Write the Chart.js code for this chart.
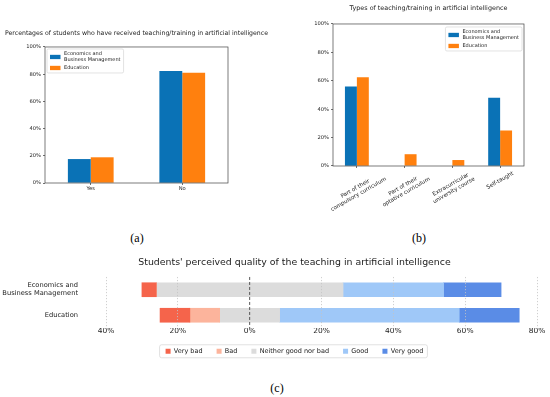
<!DOCTYPE html>
<html>
<head>
<meta charset="utf-8">
<script src="https://cdn.jsdelivr.net/npm/chart.js@4.4.1/dist/chart.umd.min.js"></script>
<style>
    html, body { margin: 0; padding: 0; background: #fff; }
    body { width: 550px; height: 397px; position: relative; overflow: hidden; }
    canvas { position: absolute; }
    .cap { position: absolute; font-family: "Liberation Serif", serif; font-size: 12px; color: #000; transform: translate(-50%, -50%); }
</style>
</head>
<body>
<canvas id="chartA" width="275" height="180" style="left:0;top:20px"></canvas>
<canvas id="chartB" width="275" height="215" style="left:275px;top:0"></canvas>
<canvas id="chartC" width="590" height="120" style="left:0;top:250px"></canvas>
<div class="cap" style="left:137px;top:238px">(a)</div>
<div class="cap" style="left:419px;top:238px">(b)</div>
<div class="cap" style="left:277px;top:388px">(c)</div>
<script>
// ---- data ----
const groupLabels = ['Economics and\nBusiness Management', 'Education'];

const receivedCats = ['Yes', 'No'];
const receivedEcon = [17.6, 82.4];
const receivedEdu = [18.9, 81.1];

const typeCats = [
    ['Part of their', 'compulsory curriculum'],
    ['Part of their', 'optative curriculum'],
    ['Extracurricular', 'university course'],
    ['Self-taught']
];
const typeEcon = [56, 0, 0, 48];
const typeEdu = [62.5, 8.3, 4.2, 25];

const qualityCats = [['Economics and', 'Business Management'], 'Education'];
const qualityLevels = ['Very bad', 'Bad', 'Neither good nor bad', 'Good', 'Very good'];
const qualityEcon = [4, 0, 52, 28, 16];
const qualityEdu = [8.3, 8.3, 16.7, 50, 16.7];

// ---- styles ----
const BLUE = '#0a72b6';
const ORANGE = '#ff800e';
const qualityColors = ['#f5644b', '#fcb49c', '#dcdcdc', '#9fc8f8', '#5a8ce6'];
const INK = '#222';

Chart.defaults.font.family = '"DejaVu Sans", sans-serif';
Chart.defaults.color = INK;

// frame around the plot area (matplotlib spines)
const frame = {
    id: 'frame',
    afterDatasetsDraw(chart) {
        const { ctx, chartArea: c } = chart;
        ctx.save();
        ctx.strokeStyle = '#444';
        ctx.lineWidth = 0.7;
        ctx.strokeRect(c.left, c.top, c.right - c.left, c.bottom - c.top);
        ctx.restore();
    }
};

// legend drawn inside the plot area, with a box
const boxLegend = {
    id: 'boxLegend',
    afterDraw(chart, args, o) {
        const { ctx, chartArea: a } = chart;
        const size = 5, lh = 6, sw = 10.5, sh = 4.3, padX = 3, padY = 2, gap = 3.5, itemGap = 2;
        ctx.save();
        ctx.font = size + 'px "DejaVu Sans"';
        const items = chart.data.datasets.map(d => ({ lines: d.label.split('\n'), color: d.backgroundColor }));
        const textW = Math.max(...items.flatMap(it => it.lines.map(l => ctx.measureText(l).width)));
        const w = padX + sw + gap + textW + padX;
        const h = padY * 2 + items.reduce((s, it) => s + it.lines.length * lh, 0) + (items.length - 1) * itemGap;
        const x = o.corner === 'left' ? a.left + 2 : a.right - 2 - w;
        const y = a.top + o.top;
        ctx.fillStyle = 'rgba(255,255,255,0.85)';
        ctx.strokeStyle = '#cfcfcf';
        ctx.lineWidth = 0.6;
        ctx.beginPath();
        ctx.roundRect(x, y, w, h, 1.5);
        ctx.fill();
        ctx.stroke();
        let cy = y + padY;
        ctx.textBaseline = 'middle';
        items.forEach(it => {
            const bh = it.lines.length * lh;
            ctx.fillStyle = it.color;
            ctx.fillRect(x + padX, cy + bh / 2 - sh / 2, sw, sh);
            ctx.fillStyle = INK;
            it.lines.forEach((l, k) => ctx.fillText(l, x + padX + sw + gap, cy + lh * (k + 0.5)));
            cy += bh + itemGap;
        });
        ctx.restore();
    }
};

// rotated, centred category labels (matplotlib style)
const slantedLabels = {
    id: 'slantedLabels',
    afterDraw(chart) {
        const { ctx, chartArea, scales: { x } } = chart;
        const size = 5.5, lh = size * 1.2, ang = 30 * Math.PI / 180;
        ctx.save();
        ctx.font = size + 'px "DejaVu Sans"';
        ctx.fillStyle = INK;
        ctx.textAlign = 'center';
        ctx.textBaseline = 'middle';
        chart.data.labels.forEach((lines, i) => {
            const w = Math.max(...lines.map(l => ctx.measureText(l).width));
            const h = lines.length * lh;
            const boxH = w * Math.sin(ang) + h * Math.cos(ang);
            ctx.save();
            ctx.translate(x.getPixelForValue(i), chartArea.bottom + 4 + boxH / 2);
            ctx.rotate(-ang);
            lines.forEach((l, k) => ctx.fillText(l, 0, (k - (lines.length - 1) / 2) * lh));
            ctx.restore();
        });
        ctx.restore();
    }
};

// dashed zero line for the diverging chart
const zeroLine = {
    id: 'zeroLine',
    afterDatasetsDraw(chart) {
        const { ctx, chartArea: c, scales: { x } } = chart;
        const px = x.getPixelForValue(0);
        ctx.save();
        ctx.strokeStyle = '#444';
        ctx.lineWidth = 0.9;
        ctx.setLineDash([3, 2]);
        ctx.beginPath();
        ctx.moveTo(px, c.top);
        ctx.lineTo(px, c.bottom);
        ctx.stroke();
        ctx.restore();
    }
};

// empty axis on the right, so the title centres over the plot like matplotlib
function spacerAxis(width) {
    return {
        type: 'linear', position: 'right', display: true,
        grid: { display: false }, border: { display: false }, ticks: { display: false },
        afterFit: s => { s.width = width; }
    };
}

function pairDatasets(econ, edu) {
    return [
        { label: groupLabels[0], data: econ, backgroundColor: BLUE, categoryPercentage: 0.5, barPercentage: 1 },
        { label: groupLabels[1], data: edu, backgroundColor: ORANGE, categoryPercentage: 0.5, barPercentage: 1 }
    ];
}

function percentOptions(title, titlePad, xHeight, axisW, padLeft, padRight, corner, legendTop, showXTicks) {
    return {
        responsive: false,
        animation: false,
        events: [],
        layout: { padding: { left: padLeft, right: padRight, top: 0, bottom: 0 } },
        plugins: {
            legend: { display: false },
            tooltip: { enabled: false },
            title: { display: true, text: title, font: { size: 6.4, weight: 'normal' }, color: INK, padding: titlePad },
            boxLegend: { corner, top: legendTop }
        },
        scales: {
            x: {
                grid: { display: true, drawOnChartArea: false, offset: false, tickLength: 2, color: '#333', lineWidth: 0.7 },
                border: { display: false },
                ticks: { display: showXTicks, font: { size: 5.2 }, padding: 1, color: INK },
                afterFit: s => { s.height = xHeight; }
            },
            y: {
                min: 0, max: 100,
                grid: { display: true, drawOnChartArea: false, tickLength: 2, color: '#333', lineWidth: 0.7 },
                border: { display: false },
                ticks: { stepSize: 20, font: { size: 5.2 }, padding: 2, color: INK, callback: v => v + '%' },
                afterFit: s => { s.width = axisW; }
            },
            yPad: spacerAxis(axisW)
        }
    };
}

// (a)
new Chart(document.getElementById('chartA'), {
    type: 'bar',
    data: { labels: receivedCats, datasets: pairDatasets(receivedEcon, receivedEdu) },
    options: percentOptions('Percentages of students who have received teaching/training in artificial intelligence',
        { top: 9.2, bottom: 10.1 }, 17, 40, 5, 7, 'left', 2, true),
    plugins: [frame, boxLegend]
});

// (b)
new Chart(document.getElementById('chartB'), {
    type: 'bar',
    data: { labels: typeCats, datasets: pairDatasets(typeEcon, typeEdu) },
    options: percentOptions('Types of teaching/training in artificial intelligence',
        { top: 4.5, bottom: 11.8 }, 49, 24, 34, 2, 'right', 3, false),
    plugins: [frame, boxLegend, slantedLabels]
});

// (c) diverging stacked bars, centred on the middle of "Neither good nor bad"
function divergingRanges(values) {
    let start = -(values[0] + values[1] + values[2] / 2);
    return values.map(v => {
        const r = [start, start + v];
        start += v;
        return r;
    });
}
const econRanges = divergingRanges(qualityEcon);
const eduRanges = divergingRanges(qualityEdu);

new Chart(document.getElementById('chartC'), {
    type: 'bar',
    data: {
        labels: qualityCats,
        datasets: qualityLevels.map((lvl, i) => ({
            label: lvl,
            data: [econRanges[i], eduRanges[i]],
            backgroundColor: qualityColors[i],
            borderWidth: 0,
            grouped: false,
            barThickness: 14
        }))
    },
    options: {
        indexAxis: 'y',
        responsive: false,
        animation: false,
        events: [],
        layout: { padding: { left: 1, right: 2, top: 0, bottom: 5.5 } },
        plugins: {
            tooltip: { enabled: false },
            title: {
                display: true,
                text: "Students' perceived quality of the teaching in artificial intelligence",
                font: { size: 9.4, weight: 'normal' }, color: INK,
                padding: { top: 7.4, bottom: 8.3 }
            },
            legend: {
                position: 'bottom',
                labels: { boxWidth: 5, boxHeight: 5, padding: 14, font: { size: 6.5 }, color: INK }
            }
        },
        scales: {
            x: {
                min: -40, max: 80,
                grid: {
                    color: c => (c.tick && c.tick.value === 0) ? 'rgba(0,0,0,0)' : '#c4c4c4',
                    lineWidth: 0.8, drawTicks: false, z: 1
                },
                border: { display: false, dash: [1.2, 1.8] },
                ticks: { stepSize: 20, font: { size: 7.5 }, padding: -1.5, color: INK, callback: v => Math.abs(v) + '%' },
                afterFit: s => { s.height = 6; }
            },
            y: {
                grid: { display: false },
                border: { display: false },
                ticks: { font: { size: 6.7 }, padding: 20, color: INK },
                afterFit: s => { s.width = 105; }
            },
            yPad: spacerAxis(51)
        }
    },
    plugins: [zeroLine, {
        id: 'legendBox',
        afterDraw(chart) {
            const boxes = chart.legend.legendHitBoxes;
            if (!boxes || !boxes.length) return;
            const left = Math.min(...boxes.map(b => b.left)) - 6;
            const right = Math.max(...boxes.map(b => b.left + b.width)) + 4;
            const mid = boxes[0].top + boxes[0].height / 2;
            const ctx = chart.ctx;
            ctx.save();
            ctx.strokeStyle = '#d4d4d4';
            ctx.lineWidth = 0.7;
            ctx.beginPath();
            ctx.roundRect(left, mid - 6.5, right - left, 13, 2);
            ctx.stroke();
            ctx.restore();
        }
    }]
});
</script>
</body>
</html>
